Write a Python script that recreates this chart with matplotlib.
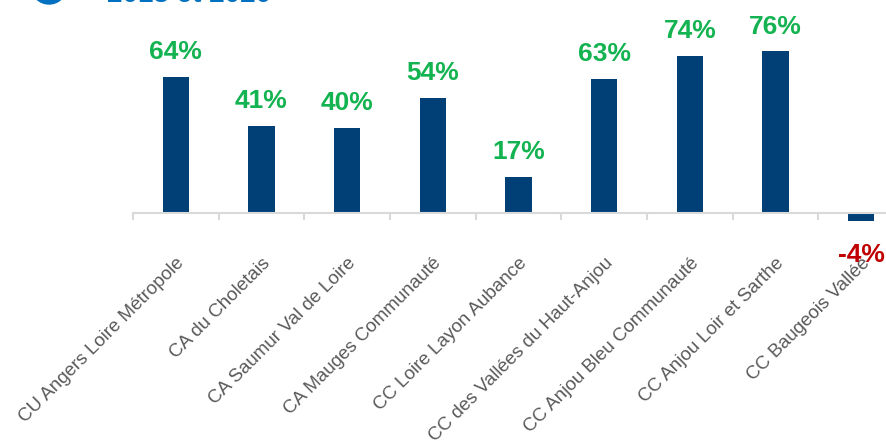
import numpy as np
import matplotlib
matplotlib.use("Agg")
import matplotlib.pyplot as plt
from matplotlib.patches import Ellipse

categories = ["CU Angers Loire Métropole", "CA du Choletais", "CA Saumur Val de Loire",
              "CA Mauges Communauté", "CC Loire Layon Aubance", "CC des Vallées du Haut-Anjou",
              "CC Anjou Bleu Communauté", "CC Anjou Loir et Sarthe", "CC Baugeois Vallée"]
values = [64, 41, 40, 54, 17, 63, 74, 76, -4]

plt.rcParams['font.family'] = ['Liberation Sans', 'DejaVu Sans']

fig = plt.figure(figsize=(8.86, 4.41), dpi=100)
W, H = 886, 441
# axes placed in pixels: x 133..904, y 0..260 (from top)
ax = fig.add_axes([133 / W, 1 - 260 / H, (904 - 133) / W, 260 / H])

x = np.arange(len(categories))
ax.bar(x, values, width=0.31, color='#004077', zorder=2)

ppu = 2.125  # pixels per percentage point
ax.set_ylim(-(260 - 213) / ppu, 213 / ppu)
ax.set_xlim(-0.5, len(categories) - 0.5)

for xi, v in zip(x, values):
    if v >= 0:
        ax.text(xi, v + 6, f"{v}%", ha='center', va='bottom', fontsize=19,
                fontweight='bold', color='#12b350')
    else:
        ax.text(xi, v - 10, f"{v}%", ha='center', va='top', fontsize=19,
                fontweight='bold', color='#c00000')

for s in ['top', 'right', 'left']:
    ax.spines[s].set_visible(False)
ax.spines['bottom'].set_position(('data', 0))
ax.spines['bottom'].set_color('#d9d9d9')
ax.spines['bottom'].set_linewidth(1.5)
ax.set_yticks([])

ax.set_xticks(x)
ax.set_xticklabels(categories, rotation=45, ha='right', va='top',
                   rotation_mode='anchor', fontsize=13.5, color='#595959')
ax.tick_params(axis='x', which='major', length=0, pad=30)
ax.set_xticks(np.arange(len(categories) + 1) - 0.5, minor=True)
ax.tick_params(axis='x', which='minor', length=5, width=1.5, color='#d9d9d9')

# cropped title remnants at the top
fig.text(107 / W, 1 - 1.5 / H, "2018 et 2020", ha='left', va='baseline',
         fontsize=20, fontweight='bold', color='#0070c0')
fig.patches.append(Ellipse((49 / W, 1 + 12 / H), 34 / W, 32 / H,
                           transform=fig.transFigure, color='#0070c0'))

fig.savefig("out.png", dpi=100)
